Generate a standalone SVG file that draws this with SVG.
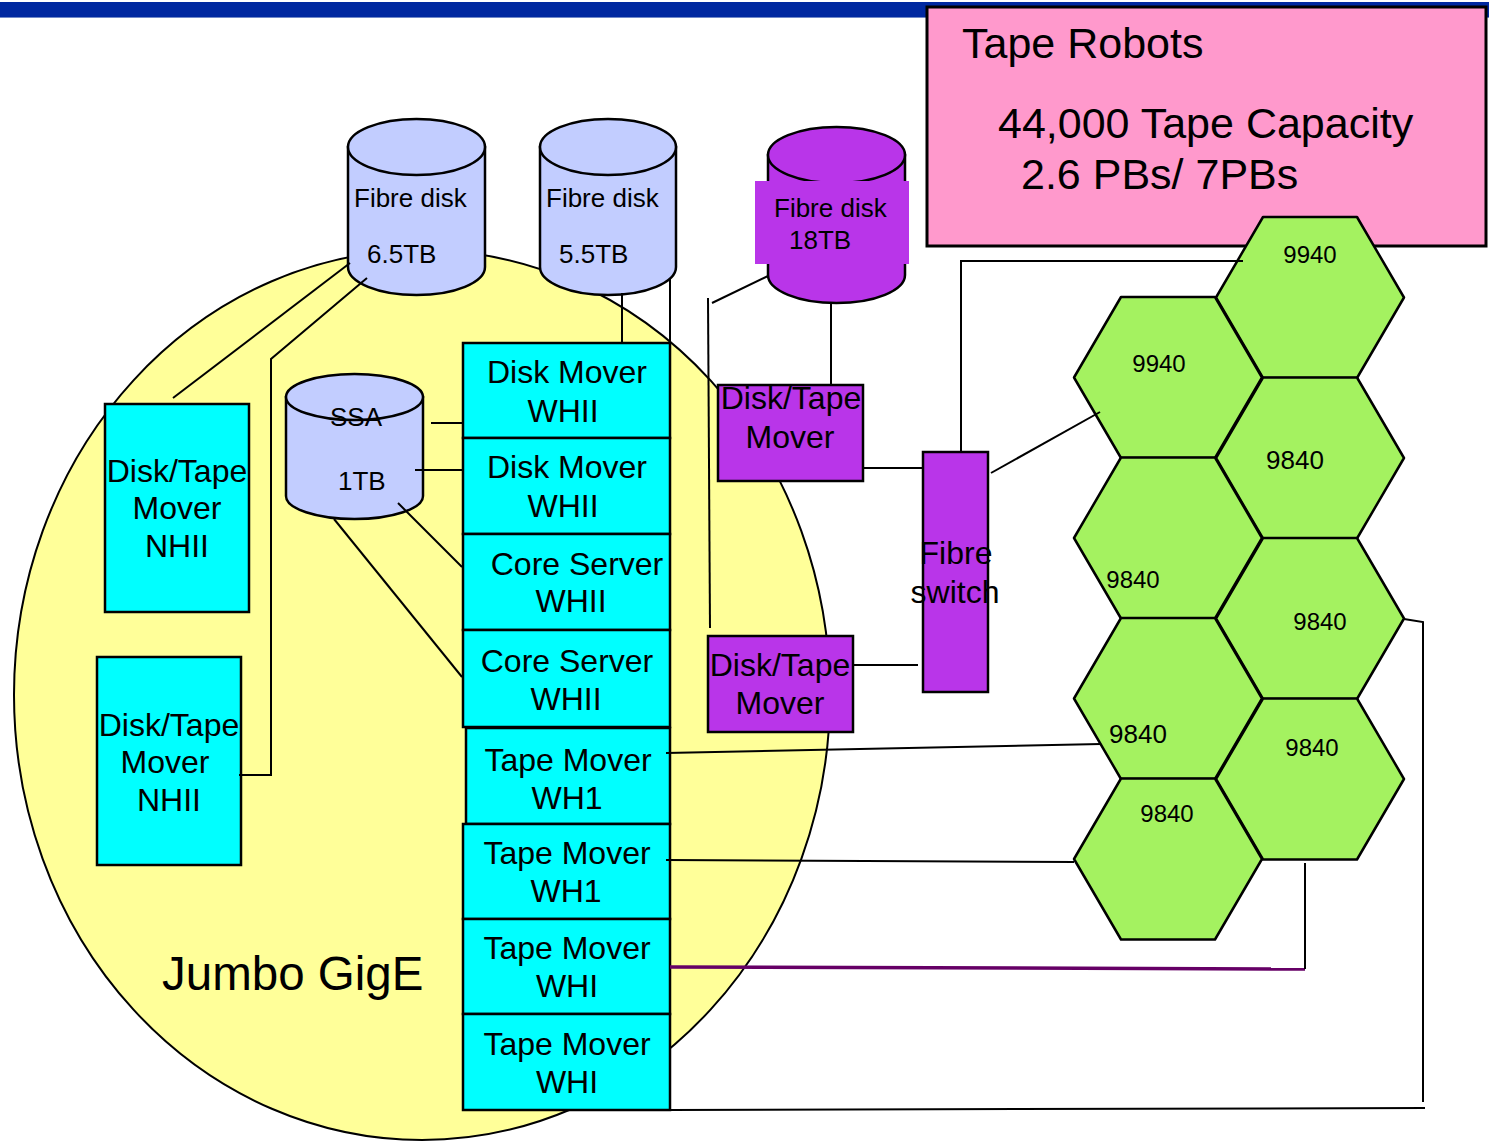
<svg xmlns="http://www.w3.org/2000/svg" width="1489" height="1143" viewBox="0 0 1489 1143">
<style>
text{font-family:"Liberation Sans",Arial,sans-serif;fill:#000}
.t31{font-size:32px;text-anchor:middle}
.t26{font-size:26px}
.t24{font-size:24px;text-anchor:middle}
.t42{font-size:43px}
.cyan{fill:#00FFFF;stroke:#000;stroke-width:2.5}
.pur{fill:#B935E9;stroke:#000;stroke-width:2.5}
.cyl{fill:#C2CDFF;stroke:#000;stroke-width:2.5}
.pcyl{fill:#B935E9;stroke:#000;stroke-width:2.5}
.hex{fill:#A4F260;stroke:#000;stroke-width:2.5;stroke-linejoin:round}
.ln{fill:none;stroke:#000;stroke-width:2}
</style>
<rect x="0" y="2" width="1489" height="16" fill="#0028A0"/>
<line x1="0" y1="17.5" x2="1489" y2="17.5" stroke="#7088C8" stroke-width="1"/>
<g id="jumbo-gige">
<ellipse cx="422" cy="695" rx="408" ry="445" fill="#FFFF99" stroke="#000" stroke-width="2"/>
<text x="162" y="990" style="font-size:47.5px">Jumbo GigE</text>
</g>
<g id="tape-robots">
<rect x="927" y="7" width="559" height="239" fill="#FF99CC" stroke="#000" stroke-width="3"/>
<text class="t42" x="962" y="58">Tape Robots</text>
<text class="t42" x="998" y="138">44,000 Tape Capacity</text>
<text class="t42" x="1021" y="189">2.6 PBs/ 7PBs</text>
</g>
<g id="fibre-disk-6-5tb">
<path class="cyl" d="M348,147 V267 A68.5,28 0 0 0 485,267 V147 Z"/>
<ellipse class="cyl" cx="416.5" cy="147" rx="68.5" ry="28"/>
<text class="t26" x="354" y="207">Fibre disk</text>
<text class="t26" x="367" y="263">6.5TB</text>
</g>
<g id="fibre-disk-5-5tb">
<path class="cyl" d="M540,147 V267 A68,28 0 0 0 676,267 V147 Z"/>
<ellipse class="cyl" cx="608" cy="147" rx="68" ry="28"/>
<text class="t26" x="546" y="207">Fibre disk</text>
<text class="t26" x="559" y="263">5.5TB</text>
</g>
<g id="fibre-disk-18tb">
<path class="pcyl" d="M768,155 V275 A68.5,28 0 0 0 905,275 V155 Z"/>
<ellipse class="pcyl" cx="836.5" cy="155" rx="68.5" ry="28"/>
<rect x="755" y="181" width="154" height="83" fill="#B935E9"/>
<text class="t26" x="774" y="217">Fibre disk</text>
<text class="t26" x="789" y="249">18TB</text>
</g>
<g id="ssa-1tb">
<path class="cyl" d="M286,397 V496 A68.5,23 0 0 0 423,496 V397 Z"/>
<ellipse class="cyl" cx="354.5" cy="397" rx="68.5" ry="23" fill="none"/>
<text class="t26" x="330" y="426">SSA</text>
<text class="t26" x="338" y="490">1TB</text>
</g>
<g id="disk-tape-mover-nhii-1">
<rect class="cyan" x="105" y="404" width="144" height="208"/>
<text class="t31" x="177" y="482">Disk/Tape</text>
<text class="t31" x="177" y="519">Mover</text>
<text class="t31" x="177" y="557">NHII</text>
</g>
<g id="disk-tape-mover-nhii-2">
<rect class="cyan" x="97" y="657" width="144" height="208"/>
<text class="t31" x="169" y="736">Disk/Tape</text>
<text class="t31" x="165" y="773">Mover</text>
<text class="t31" x="169" y="811">NHII</text>
</g>
<g id="disk-mover-whii-1">
<rect class="cyan" x="463" y="343" width="207" height="95"/>
<text class="t31" x="567" y="383">Disk Mover</text>
<text class="t31" x="563" y="422">WHII</text>
</g>
<g id="disk-mover-whii-2">
<rect class="cyan" x="463" y="438" width="207" height="96"/>
<text class="t31" x="567" y="478">Disk Mover</text>
<text class="t31" x="563" y="517">WHII</text>
</g>
<g id="core-server-whii-1">
<rect class="cyan" x="463" y="534" width="207" height="96"/>
<text class="t31" x="577" y="575">Core Server</text>
<text class="t31" x="571" y="612">WHII</text>
</g>
<g id="core-server-whii-2">
<rect class="cyan" x="463" y="630" width="207" height="97"/>
<text class="t31" x="567" y="672">Core Server</text>
<text class="t31" x="566" y="710">WHII</text>
</g>
<g id="tape-mover-wh1-1">
<rect class="cyan" x="466" y="728" width="204" height="96"/>
<text class="t31" x="568" y="771">Tape Mover</text>
<text class="t31" x="567" y="809">WH1</text>
</g>
<g id="tape-mover-wh1-2">
<rect class="cyan" x="463" y="824" width="207" height="95"/>
<text class="t31" x="567" y="864">Tape Mover</text>
<text class="t31" x="566" y="902">WH1</text>
</g>
<g id="tape-mover-whi-1">
<rect class="cyan" x="463" y="919" width="207" height="95"/>
<text class="t31" x="567" y="959">Tape Mover</text>
<text class="t31" x="567" y="997">WHI</text>
</g>
<g id="tape-mover-whi-2">
<rect class="cyan" x="463" y="1014" width="207" height="96"/>
<text class="t31" x="567" y="1055">Tape Mover</text>
<text class="t31" x="567" y="1093">WHI</text>
</g>
<g id="disk-tape-mover-1">
<rect class="pur" x="718" y="385" width="145" height="96"/>
<text class="t31" x="791" y="409">Disk/Tape</text>
<text class="t31" x="790" y="448">Mover</text>
</g>
<g id="disk-tape-mover-2">
<rect class="pur" x="708" y="636" width="145" height="96"/>
<text class="t31" x="780" y="676">Disk/Tape</text>
<text class="t31" x="780" y="714">Mover</text>
</g>
<g id="fibre-switch">
<rect class="pur" x="923" y="452" width="65" height="240"/>
<text class="t31" x="956" y="564">Fibre</text>
<text class="t31" x="955" y="603">switch</text>
</g>
<g id="robot-9940-a">
<polygon class="hex" points="1216,297.5 1263,217 1357,217 1404,297.5 1357,378 1263,378"/>
<text class="t24" x="1310" y="263">9940</text>
</g>
<g id="robot-9840-c">
<polygon class="hex" points="1216,458 1263,377.5 1357,377.5 1404,458 1357,538.5 1263,538.5"/>
<text class="t24" x="1295" y="469" style="font-size:26px">9840</text>
</g>
<g id="robot-9840-g">
<polygon class="hex" points="1216,618.5 1263,538 1357,538 1404,618.5 1357,699 1263,699"/>
<text class="t24" x="1320" y="630">9840</text>
</g>
<g id="robot-9840-h">
<polygon class="hex" points="1216,779 1263,698.5 1357,698.5 1404,779 1357,859.5 1263,859.5"/>
<text class="t24" x="1312" y="756">9840</text>
</g>
<g id="robot-9940-b">
<polygon class="hex" points="1074,377.5 1121,297 1215,297 1262,377.5 1215,458 1121,458"/>
<text class="t24" x="1159" y="372">9940</text>
</g>
<g id="robot-9840-d">
<polygon class="hex" points="1074,538 1121,457.5 1215,457.5 1262,538 1215,618.5 1121,618.5"/>
<text class="t24" x="1133" y="588">9840</text>
</g>
<g id="robot-9840-e">
<polygon class="hex" points="1074,698.5 1121,618 1215,618 1262,698.5 1215,779 1121,779"/>
<text class="t24" x="1138" y="743" style="font-size:26px">9840</text>
</g>
<g id="robot-9840-f">
<polygon class="hex" points="1074,859 1121,778.5 1215,778.5 1262,859 1215,939.5 1121,939.5"/>
<text class="t24" x="1167" y="822">9840</text>
</g>
<g id="connectors">
<polyline class="ln" points="350,263 173,398"/>
<polyline class="ln" points="367,278 271,359 271,775 239,775"/>
<line class="ln" x1="622" y1="293" x2="622" y2="343"/>
<line class="ln" x1="670" y1="278" x2="670" y2="343"/>
<polyline class="ln" points="768,276 712,303"/>
<line class="ln" x1="708" y1="298" x2="710" y2="628"/>
<line class="ln" x1="831" y1="304" x2="831" y2="385"/>
<line class="ln" x1="863" y1="468" x2="923" y2="468"/>
<line class="ln" x1="853" y1="665" x2="918" y2="665"/>
<polyline class="ln" points="961,452 961,261 1243,261"/>
<line class="ln" x1="991" y1="473" x2="1100" y2="412"/>
<line class="ln" x1="431" y1="423" x2="463" y2="423"/>
<line class="ln" x1="415" y1="470" x2="463" y2="470"/>
<line class="ln" x1="398" y1="503" x2="462" y2="567"/>
<line class="ln" x1="334" y1="519" x2="462" y2="677"/>
<line class="ln" x1="666" y1="753" x2="1101" y2="744"/>
<line class="ln" x1="666" y1="860" x2="1074" y2="862"/>
<line x1="670" y1="967" x2="1305" y2="969" stroke="#660066" stroke-width="3.5"/>
<line class="ln" x1="1305" y1="863" x2="1305" y2="969"/>
<polyline class="ln" points="1404,619 1423,622 1423,1102"/>
<line class="ln" x1="670" y1="1110" x2="1425" y2="1108"/>
</g>
</svg>
